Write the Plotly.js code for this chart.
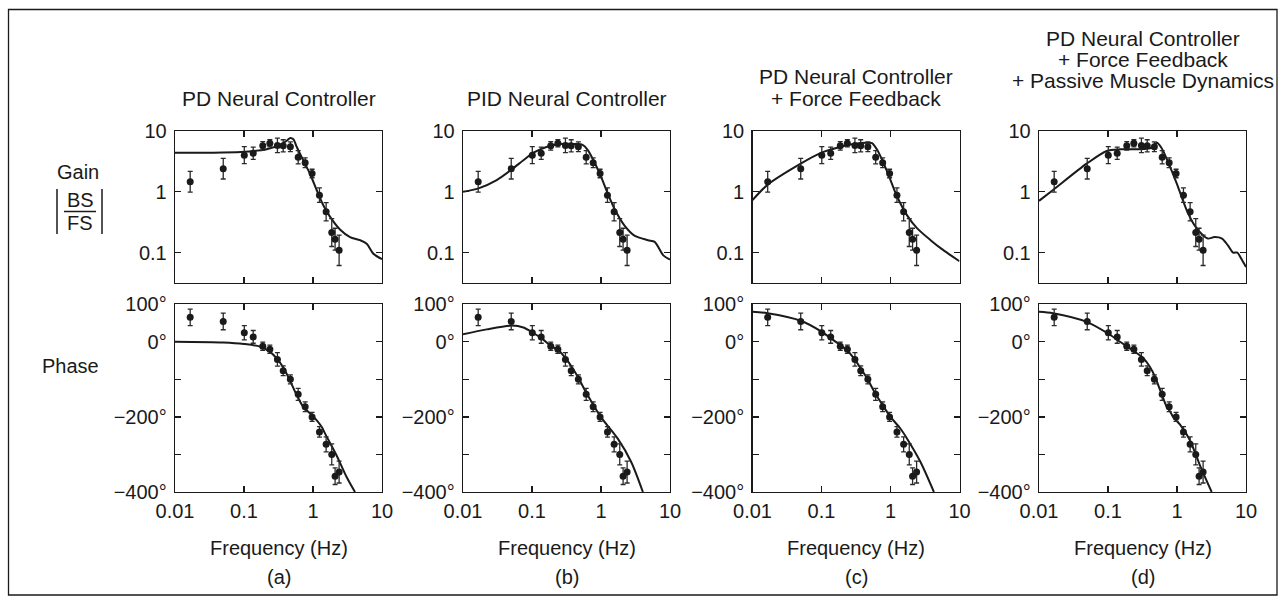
<!DOCTYPE html>
<html><head><meta charset="utf-8">
<script src="https://cdn.plot.ly/plotly-3.0.1.min.js"></script>
<style>html,body{margin:0;padding:0;background:#fff}</style>
</head><body><div id="chart" style="width:1285px;height:603px"></div>
<script>
// ---------- tick labels / text ----------
const panelLabels = ['(a)', '(b)', '(c)', '(d)'];
const panelTitles = [
  ['PD Neural Controller'],
  ['PID Neural Controller'],
  ['PD Neural Controller', '+ Force Feedback'],
  ['PD Neural Controller', '+ Force Feedback', '+ Passive Muscle Dynamics']
];
const xTickVals = [0.01, 0.1, 1, 10];
const xTickText = ['0.01', '0.1', '1', '10'];
const gainTickVals = [0.1, 1, 10];
const gainTickText = ['0.1', '1', '10'];
const phaseTickVals = [-400, -300, -200, -100, 0, 100];
const phaseTickText = ['\u2212400\u00b0', '', '\u2212200\u00b0', '', '0\u00b0', '100\u00b0'];

// ---------- measured data (same in every panel) ----------
const measFreq      = [0.0166, 0.050, 0.101, 0.136, 0.187, 0.237, 0.305, 0.37, 0.47, 0.61, 0.77, 0.97, 1.24, 1.55, 1.87, 2.09, 2.39];
const measGain      = [1.46, 2.4, 4.0, 4.3, 5.7, 6.3, 5.8, 5.7, 5.5, 3.7, 3.0, 2.0, 0.88, 0.47, 0.214, 0.166, 0.109];
const measGainErrDec= [0.17, 0.17, 0.14, 0.10, 0.07, 0.06, 0.12, 0.10, 0.08, 0.11, 0.08, 0.07, 0.12, 0.15, 0.23, 0.18, 0.25];
const measPhase     = [65, 54, 24, 13, -12, -20, -47, -77, -100, -140, -173, -200, -240, -273, -300, -358, -347];
const measPhaseErr  = [22, 22, 19, 17, 11, 11, 18, 13, 12, 16, 13, 12, 14, 20, 28, 22, 29];

// ---------- model curves ----------
const gainFreqA = [0.01, 0.03, 0.09, 0.213, 0.333, 0.416, 0.47, 0.52, 0.58, 0.72, 0.9, 1.13, 1.41, 1.76, 2.46, 3.44, 4.8, 6.0, 7.5, 10];
const gainA     = [4.4, 4.4, 4.5, 5.0, 5.9, 6.9, 7.7, 7.3, 5.5, 3.3, 2.0, 1.07, 0.60, 0.39, 0.24, 0.18, 0.16, 0.14, 0.096, 0.078];
const phaseFreqA= [0.01, 0.05, 0.1, 0.17, 0.238, 0.297, 0.37, 0.46, 0.58, 0.72, 1.0, 1.34, 1.49, 2.19, 3.07, 4.06];
const phaseA    = [0, -2, -6, -13, -27, -44, -68, -102, -142, -173, -198, -227, -244, -302, -360, -400];

const gainFreqB = [0.01, 0.0168, 0.0308, 0.051, 0.075, 0.105, 0.166, 0.26, 0.406, 0.54, 0.64, 0.8, 1.0, 1.25, 1.56, 2.18, 3.05, 4.8, 6.0, 8.0, 10];
const gainB     = [1.0, 1.14, 1.56, 2.34, 3.3, 4.4, 5.5, 6.1, 6.1, 5.9, 4.9, 3.1, 1.77, 0.94, 0.53, 0.28, 0.19, 0.16, 0.15, 0.09, 0.077];
const phaseFreqB= [0.01, 0.022, 0.051, 0.075, 0.103, 0.138, 0.19, 0.24, 0.31, 0.38, 0.48, 0.62, 0.78, 0.99, 1.75, 2.74, 4.05];
const phaseB    = [20, 33, 43, 38, 24, 9, -12, -22, -45, -68, -99, -138, -169, -200, -258, -320, -400];

const gainFreqC = [0.01, 0.0165, 0.05, 0.1, 0.19, 0.29, 0.456, 0.54, 0.64, 0.8, 1.0, 1.25, 1.74, 2.44, 3.81, 5.5, 7.5, 10];
const gainC     = [0.73, 1.3, 2.9, 4.4, 5.5, 6.1, 6.4, 6.3, 4.9, 2.9, 1.56, 0.83, 0.41, 0.25, 0.16, 0.115, 0.09, 0.072];
const phaseFreqC= [0.01, 0.0165, 0.05, 0.1, 0.13, 0.187, 0.238, 0.308, 0.386, 0.466, 0.603, 0.77, 1.0, 1.39, 1.74, 2.72, 4.26];
const phaseC    = [80, 76, 56, 27, 12, -9, -24, -49, -76, -100, -138, -169, -200, -231, -258, -320, -400];

const gainFreqD = [0.01, 0.016, 0.049, 0.096, 0.149, 0.26, 0.45, 0.51, 0.6, 0.75, 0.99, 1.38, 1.8, 2.3, 2.8, 3.5, 4.5, 5.5, 6.5, 7.5, 8.5, 10];
const gainD     = [0.71, 1.07, 2.9, 4.7, 5.0, 5.0, 5.4, 6.4, 5.2, 3.0, 1.38, 0.5, 0.28, 0.2, 0.17, 0.18, 0.17, 0.13, 0.1, 0.1, 0.08, 0.058];
const phaseFreqD= [0.01, 0.016, 0.049, 0.1, 0.149, 0.233, 0.325, 0.406, 0.48, 0.57, 0.71, 0.79, 0.9, 1.1, 1.54, 2.15, 3.18];
const phaseD    = [80, 76, 53, 22, 0, -24, -44, -67, -93, -129, -173, -185, -203, -220, -262, -329, -400];

const modelGainFreq  = [gainFreqA, gainFreqB, gainFreqC, gainFreqD];
const modelGain      = [gainA, gainB, gainC, gainD];
const modelPhaseFreq = [phaseFreqA, phaseFreqB, phaseFreqC, phaseFreqD];
const modelPhase     = [phaseA, phaseB, phaseC, phaseD];

// ---------- geometry ----------
const W = 1285, H = 603;
const px = x => x / W;
const py = y => 1 - y / H;
const panelLeft = [175, 463, 752.5, 1039];
const panelW = 207;
const gainTop = 131, gainBot = 283, phaseTop = 304.2, phaseBot = 492;
const FONT = 'Liberation Sans, Arial, sans-serif';
const INK = '#1a1a1a';
const TICK_SIZE = 20, LABEL_SIZE = 20, TITLE_SIZE = 21;

const gainPlus  = measGain.map((g, i) => g * (Math.pow(10, measGainErrDec[i]) - 1));
const gainMinus = measGain.map((g, i) => g * (1 - Math.pow(10, -measGainErrDec[i])));

const traces = [];
const layout = {
  width: W, height: H,
  margin: {l: 0, r: 0, t: 0, b: 0},
  paper_bgcolor: '#fff', plot_bgcolor: '#fff',
  showlegend: false,
  font: {family: FONT, size: TICK_SIZE, color: INK},
  annotations: [], shapes: []
};

function axisBase() {
  return {
    showline: true, linecolor: INK, linewidth: 1.3, mirror: 'allticks',
    ticks: 'inside', ticklen: 6, tickwidth: 1.3, tickcolor: INK,
    showgrid: false, zeroline: false, fixedrange: true,
    tickfont: {family: FONT, size: TICK_SIZE, color: INK}
  };
}

function note(text, x, y, size) {
  layout.annotations.push({
    text: text, xref: 'paper', yref: 'paper', x: px(x), y: py(y),
    xanchor: 'center', yanchor: 'middle', showarrow: false,
    font: {family: FONT, size: size, color: INK}
  });
}

for (let p = 0; p < 4; p++) {
  const gi = 2 * p + 1, pi = 2 * p + 2;
  const xd = [px(panelLeft[p]), px(panelLeft[p] + panelW)];
  layout['xaxis' + gi] = Object.assign(axisBase(), {
    type: 'log', range: [-2, 1], domain: xd, anchor: 'y' + gi,
    tickvals: xTickVals, ticktext: xTickText, showticklabels: false
  });
  layout['yaxis' + gi] = Object.assign(axisBase(), {
    type: 'log', range: [-1.5, 1], domain: [py(gainBot), py(gainTop)], anchor: 'x' + gi,
    tickvals: gainTickVals, ticktext: gainTickText, ticklabelstandoff: 3
  });
  layout['xaxis' + pi] = Object.assign(axisBase(), {
    type: 'log', range: [-2, 1], domain: xd, anchor: 'y' + pi,
    tickvals: xTickVals, ticktext: xTickText, ticklabelstandoff: 1
  });
  layout['yaxis' + pi] = Object.assign(axisBase(), {
    range: [-400, 100], domain: [py(phaseBot), py(phaseTop)], anchor: 'x' + pi,
    tickvals: phaseTickVals, ticktext: phaseTickText, ticklabelstandoff: 3
  });

  traces.push({
    x: modelGainFreq[p], y: modelGain[p], xaxis: 'x' + gi, yaxis: 'y' + gi,
    mode: 'lines', line: {color: INK, width: 2, shape: 'spline', smoothing: 0.8},
    hoverinfo: 'skip'
  });
  traces.push({
    x: modelPhaseFreq[p], y: modelPhase[p], xaxis: 'x' + pi, yaxis: 'y' + pi,
    mode: 'lines', line: {color: INK, width: 2, shape: 'spline', smoothing: 0.8},
    hoverinfo: 'skip'
  });
  traces.push({
    x: measFreq, y: measGain, xaxis: 'x' + gi, yaxis: 'y' + gi,
    mode: 'markers', marker: {color: INK, size: 7},
    error_y: {type: 'data', symmetric: false, array: gainPlus, arrayminus: gainMinus,
              color: '#2a2a2a', thickness: 1.3, width: 2.5},
    cliponaxis: false
  });
  traces.push({
    x: measFreq, y: measPhase, xaxis: 'x' + pi, yaxis: 'y' + pi,
    mode: 'markers', marker: {color: INK, size: 7},
    error_y: {type: 'data', array: measPhaseErr, color: '#2a2a2a', thickness: 1.3, width: 2.5},
    cliponaxis: false
  });

  const cx = panelLeft[p] + panelW / 2;
  const lines = panelTitles[p];
  const lastY = (p === 3) ? 81 : 98;
  lines.forEach((t, k) => note(t, cx, lastY - (lines.length - 1 - k) * 21.5, TITLE_SIZE));
  note('Frequency (Hz)', cx, 548, LABEL_SIZE);
  note(panelLabels[p], cx, 577, LABEL_SIZE);
}

note('Gain', 78, 172, LABEL_SIZE);
note('BS', 80, 200, LABEL_SIZE);
note('FS', 80, 223, LABEL_SIZE);
note('Phase', 70, 366, LABEL_SIZE);

const lineSty = {color: INK, width: 1.5};
layout.shapes.push({type: 'line', xref: 'paper', yref: 'paper', x0: px(64), x1: px(96), y0: py(211.5), y1: py(211.5), line: lineSty});
layout.shapes.push({type: 'line', xref: 'paper', yref: 'paper', x0: px(57), x1: px(57), y0: py(189), y1: py(234), line: lineSty});
layout.shapes.push({type: 'line', xref: 'paper', yref: 'paper', x0: px(102), x1: px(102), y0: py(189), y1: py(234), line: lineSty});
layout.shapes.push({type: 'rect', xref: 'paper', yref: 'paper', x0: px(8.5), x1: px(1277), y0: py(9.5), y1: py(595),
  line: {color: INK, width: 1.3}, fillcolor: 'rgba(0,0,0,0)'});

Plotly.newPlot('chart', traces, layout, {staticPlot: true, displayModeBar: false});
</script>
</body></html>
